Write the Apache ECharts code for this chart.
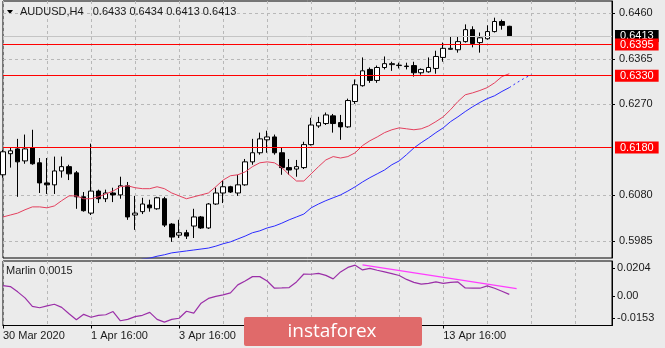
<!DOCTYPE html>
<html>
<head>
<meta charset="utf-8">
<title>AUDUSD H4</title>
<script src="https://cdn.jsdelivr.net/npm/echarts@6/dist/echarts.min.js"></script>
<style>
  html, body { margin: 0; padding: 0; background: #ebebeb; }
  #chart { width: 665px; height: 348px; }
</style>
</head>
<body>
<div id="chart"></div>
<script>
// H4 candles, first bar 30 Mar 2020 16:00
const opens = [0.6123, 0.6167, 0.6177, 0.6152, 0.6179, 0.6148, 0.6106, 0.6102, 0.6131, 0.6140,
  0.6127, 0.6077, 0.6043, 0.6089, 0.6073, 0.6085, 0.6081, 0.6100, 0.6039, 0.6046,
  0.6060, 0.6052, 0.6073, 0.6020, 0.5997, 0.6002, 0.6016, 0.6035, 0.6012, 0.6062,
  0.6085, 0.6098, 0.6085, 0.6102, 0.6150, 0.6169, 0.6196, 0.6202, 0.6169, 0.6138,
  0.6135, 0.6138, 0.6186, 0.6225, 0.6230, 0.6246, 0.6232, 0.6223, 0.6276, 0.6309,
  0.6343, 0.6320, 0.6347, 0.6353, 0.6351, 0.6350, 0.6351, 0.6336, 0.6338, 0.6345,
  0.6368, 0.6385, 0.6384, 0.6401, 0.6426, 0.6399, 0.6407, 0.6422, 0.6443, 0.6433];
const closes = [0.6171, 0.6173, 0.6150, 0.6177, 0.6146, 0.6106, 0.6102, 0.6131, 0.6140, 0.6125,
  0.6077, 0.6048, 0.6089, 0.6073, 0.6085, 0.6081, 0.6100, 0.6035, 0.6043, 0.6062,
  0.6054, 0.6075, 0.6018, 0.5993, 0.6002, 0.5995, 0.6035, 0.6012, 0.6062, 0.6085,
  0.6098, 0.6087, 0.6102, 0.6150, 0.6169, 0.6198, 0.6202, 0.6169, 0.6138, 0.6133,
  0.6140, 0.6186, 0.6227, 0.6232, 0.6248, 0.6230, 0.6223, 0.6278, 0.6311, 0.6340,
  0.6320, 0.6347, 0.6355, 0.6355, 0.6352, 0.6349, 0.6336, 0.6343, 0.6347, 0.6370,
  0.6387, 0.6387, 0.6401, 0.6426, 0.6397, 0.6409, 0.6422, 0.6443, 0.6435, 0.6413];
const lows = [0.6117, 0.6138, 0.6077, 0.6146, 0.6144, 0.6085, 0.6083, 0.6083, 0.6117, 0.6112,
  0.6052, 0.6046, 0.6039, 0.6064, 0.6066, 0.6066, 0.6073, 0.6029, 0.6008, 0.6041,
  0.6046, 0.6050, 0.6014, 0.5983, 0.5991, 0.5989, 0.5991, 0.6010, 0.6010, 0.6060,
  0.6064, 0.6085, 0.6079, 0.6100, 0.6144, 0.6165, 0.6169, 0.6165, 0.6123, 0.6123,
  0.6119, 0.6135, 0.6184, 0.6221, 0.6227, 0.6211, 0.6196, 0.6221, 0.6271, 0.6307,
  0.6315, 0.6315, 0.6343, 0.6340, 0.6345, 0.6343, 0.6328, 0.6332, 0.6336, 0.6334,
  0.6359, 0.6384, 0.6378, 0.6399, 0.6389, 0.6378, 0.6405, 0.6420, 0.6426, 0.6413];
const highs = [0.6175, 0.6179, 0.6198, 0.6207, 0.6217, 0.6158, 0.6158, 0.6161, 0.6161, 0.6144,
  0.6131, 0.6087, 0.6188, 0.6092, 0.6092, 0.6096, 0.6119, 0.6108, 0.6079, 0.6075,
  0.6071, 0.6077, 0.6077, 0.6022, 0.6029, 0.6008, 0.6052, 0.6037, 0.6064, 0.6096,
  0.6112, 0.6100, 0.6123, 0.6156, 0.6198, 0.6211, 0.6215, 0.6207, 0.6179, 0.6156,
  0.6154, 0.6192, 0.6242, 0.6244, 0.6253, 0.6250, 0.6248, 0.6282, 0.6322, 0.6368,
  0.6347, 0.6351, 0.6370, 0.6359, 0.6357, 0.6357, 0.6359, 0.6345, 0.6368, 0.6382,
  0.6399, 0.6412, 0.6412, 0.6437, 0.6433, 0.6420, 0.6435, 0.6451, 0.6447, 0.6434];

// fast MA (red)
const redMA = [0.6035, 0.6039, 0.6043, 0.6050, 0.6056, 0.6056, 0.6054, 0.6058, 0.6069, 0.6079,
  0.6079, 0.6073, 0.6073, 0.6077, 0.6083, 0.6089, 0.6098, 0.6100, 0.6096, 0.6094,
  0.6094, 0.6098, 0.6094, 0.6085, 0.6079, 0.6073, 0.6077, 0.6081, 0.6085, 0.6098,
  0.6112, 0.6121, 0.6123, 0.6129, 0.6140, 0.6148, 0.6150, 0.6148, 0.6138, 0.6123,
  0.6110, 0.6110, 0.6125, 0.6140, 0.6154, 0.6161, 0.6158, 0.6161, 0.6169, 0.6184,
  0.6194, 0.6202, 0.6211, 0.6217, 0.6221, 0.6219, 0.6217, 0.6219, 0.6225, 0.6234,
  0.6244, 0.6259, 0.6276, 0.6290, 0.6294, 0.6299, 0.6305, 0.6315, 0.6328, 0.6334];

// slow MA (blue), starts at bar 18, plus shifted part (dashed) from bar 69
const blueStart = 18;
const blueMA = [0.5943, 0.5947, 0.5949, 0.5953, 0.5956, 0.5960, 0.5962, 0.5964, 0.5966, 0.5968,
  0.5970, 0.5974, 0.5979, 0.5983, 0.5989, 0.5995, 0.6002, 0.6006, 0.6012, 0.6016,
  0.6022, 0.6029, 0.6035, 0.6041, 0.6054, 0.6062, 0.6069, 0.6075, 0.6081, 0.6089,
  0.6098, 0.6108, 0.6117, 0.6125, 0.6133, 0.6144, 0.6152, 0.6165, 0.6179, 0.6190,
  0.6200, 0.6211, 0.6221, 0.6234, 0.6244, 0.6255, 0.6265, 0.6274, 0.6282, 0.6288,
  0.6297, 0.6305];
const blueShift = [0.6305, 0.6315, 0.6324, 0.6332];

// Marlin oscillator
const marlin = [0.0078, 0.0071, 0.0033, -0.0010, -0.0071, -0.0081, -0.0067, -0.0056, -0.0078, -0.0124,
  -0.0167, -0.0128, -0.0149, -0.0135, -0.0131, -0.0108, -0.0174, -0.0164, -0.0144, -0.0135,
  -0.0114, -0.0164, -0.0184, -0.0164, -0.0156, -0.0106, -0.0119, -0.0048, -0.0014, 0.0001,
  0.0011, 0.0026, 0.0083, 0.0111, 0.0142, 0.0142, 0.0111, 0.0059, 0.0061, 0.0064,
  0.0104, 0.0161, 0.0159, 0.0165, 0.0151, 0.0126, 0.0176, 0.0208, 0.0224, 0.0190,
  0.0201, 0.0188, 0.0176, 0.0163, 0.0150, 0.0122, 0.0101, 0.0088, 0.0094, 0.0104,
  0.0094, 0.0101, 0.0104, 0.0061, 0.0059, 0.0059, 0.0076, 0.0059, 0.0037, 0.0015];
const trendBars = [49, 70];
const trendValues = [0.0226, 0.0056];

const levels = [0.6395, 0.6330, 0.6180];
const priceTicks = [0.6460, 0.6365, 0.6270, 0.6080, 0.5985];
const marlinTicks = [0.0204, 0, -0.0153];
const timeLabels = ['30 Mar 2020', '1 Apr 16:00', '3 Apr 16:00', '7 Apr 16:00', '9 Apr 16:00', '13 Apr 16:00'];
const labelStep = 12;
const slotCount = 84;

const font = 'Liberation Sans';
const last = opens.length - 1;

const categories = [];
for (let i = 0; i < slotCount; i++) {
  categories.push(i % labelStep === 0 && timeLabels[i / labelStep] ? timeLabels[i / labelStep] : '');
}
const showLabel = (i) => i % labelStep === 0 && !!timeLabels[i / labelStep];

const candleData = opens.map((o, i) => [o, closes[i], lows[i], highs[i]]);
const blueLine = Array(blueStart).fill(null).concat(blueMA);
const blueDash = Array(blueStart + blueMA.length - 1).fill(null).concat(blueShift);
const trendLine = Array(slotCount).fill(null);
trendBars.forEach((b, k) => { trendLine[b] = trendValues[k]; });

const boxLabel = (bg) => ({
  show: true, position: 'end', distance: 3,
  backgroundColor: bg, color: '#fff', fontFamily: font, fontSize: 11,
  padding: [1, 5, 0, 5], lineHeight: 11,
  formatter: (p) => Number(p.value).toFixed(4)
});

const dashed = {color: '#b8b8b8', type: [3, 3], width: 1};

const xBase = {
  type: 'category', data: categories, boundaryGap: false,
  axisLine: {show: false, onZero: false}, axisTick: {show: false}, axisLabel: {show: false},
  splitLine: {show: true, interval: 5, lineStyle: dashed}
};

const chart = echarts.init(document.getElementById('chart'));

const option = {
  backgroundColor: '#ebebeb',
  animation: false,
  textStyle: {fontFamily: font},
  title: [
    {
      left: 20, top: 6, padding: 0,
      text: 'AUDUSD,H4   ' + [opens[last], highs[last], lows[last], closes[last]].map(v => v.toFixed(4)).join(' '),
      textStyle: {fontFamily: font, fontSize: 11, fontWeight: 'normal', color: '#1a1a1a'}
    },
    {
      left: 6, top: 265, padding: 0,
      text: 'Marlin ' + marlin[last].toFixed(4),
      textStyle: {fontFamily: font, fontSize: 11, fontWeight: 'normal', color: '#1a1a1a'}
    }
  ],
  graphic: [
    {type: 'polygon', shape: {points: [[7, 10], [13, 10], [10, 14]]}, style: {fill: '#000'}},
    {type: 'rect', z: 100, shape: {x: 244, y: 317, width: 178, height: 29, r: 2}, style: {fill: '#e06a6a'}},
    {type: 'text', z: 101, x: 332, y: 332, style: {text: 'instaforex', fill: '#fff', font: '19px "Open Sans"', align: 'center', verticalAlign: 'middle'}}
  ],
  grid: [
    {left: 3, top: 1, width: 609, height: 257, show: true, borderColor: '#000', borderWidth: 1},
    {left: 3, top: 261, width: 609, height: 64.5, show: true, borderColor: '#000', borderWidth: 1}
  ],
  xAxis: [
    Object.assign({gridIndex: 0}, xBase),
    Object.assign({}, xBase, {
      gridIndex: 1,
      axisLine: {show: true, onZero: false, lineStyle: {color: '#000'}},
      axisTick: {show: true, length: 3, interval: showLabel, lineStyle: {color: '#000'}},
      axisLabel: {show: true, interval: showLabel, align: 'left', margin: 5, color: '#1a1a1a', fontFamily: font, fontSize: 11}
    })
  ],
  yAxis: [
    {
      gridIndex: 0, type: 'value', position: 'right', min: 0.594928, max: 0.648581,
      axisLine: {show: true, lineStyle: {color: '#000'}},
      axisTick: {show: true, length: 3, customValues: priceTicks, lineStyle: {color: '#000'}},
      axisLabel: {customValues: priceTicks, margin: 7, color: '#1a1a1a', fontFamily: font, fontSize: 11, formatter: (v) => v.toFixed(4)},
      splitLine: {show: true, lineStyle: dashed}
    },
    {
      gridIndex: 1, type: 'value', position: 'right', min: -0.0208, max: 0.0254,
      axisLine: {show: true, lineStyle: {color: '#000'}},
      axisTick: {show: true, length: 3, customValues: marlinTicks, lineStyle: {color: '#000'}},
      axisLabel: {customValues: marlinTicks, margin: 5, color: '#1a1a1a', fontFamily: font, fontSize: 11, formatter: (v) => v === 0 ? '0.00' : v.toFixed(4)},
      splitLine: {show: false}
    }
  ],
  series: [
    {
      name: 'AUDUSD', type: 'candlestick', xAxisIndex: 0, yAxisIndex: 0,
      data: candleData, barWidth: 5,
      itemStyle: {color: '#fff', color0: '#000', borderColor: '#000', borderColor0: '#000', borderWidth: 1},
      markLine: {
        silent: true, symbol: ['none', 'none'], precision: 4,
        lineStyle: {color: '#c4c4c4', type: 'solid', width: 1},
        label: boxLabel('#000'),
        data: [{yAxis: closes[last]}]
      }
    },
    {
      name: 'MA fast', type: 'line', xAxisIndex: 0, yAxisIndex: 0, data: redMA,
      showSymbol: false, lineStyle: {color: '#e4405e', width: 1},
      markLine: {
        silent: true, symbol: ['none', 'none'], precision: 4,
        lineStyle: {color: '#ff0000', type: 'solid', width: 1, opacity: 1},
        label: boxLabel('#ff0000'),
        data: levels.map(v => ({yAxis: v}))
      }
    },
    {
      name: 'MA slow', type: 'line', xAxisIndex: 0, yAxisIndex: 0, data: blueLine,
      showSymbol: false, lineStyle: {color: '#2a2aff', width: 1}
    },
    {
      name: 'MA slow shift', type: 'line', xAxisIndex: 0, yAxisIndex: 0, data: blueDash,
      showSymbol: false, lineStyle: {color: '#2a2aff', width: 1, type: [2, 3]}
    },
    {
      name: 'Marlin', type: 'line', xAxisIndex: 1, yAxisIndex: 1, data: marlin,
      showSymbol: false, lineStyle: {color: '#9b2fa8', width: 1.2}
    },
    {
      name: 'Trend', type: 'line', xAxisIndex: 1, yAxisIndex: 1, data: trendLine,
      connectNulls: true, showSymbol: false, lineStyle: {color: '#ff3cff', width: 1.2}
    }
  ]
};

chart.setOption(option);
</script>
</body>
</html>
